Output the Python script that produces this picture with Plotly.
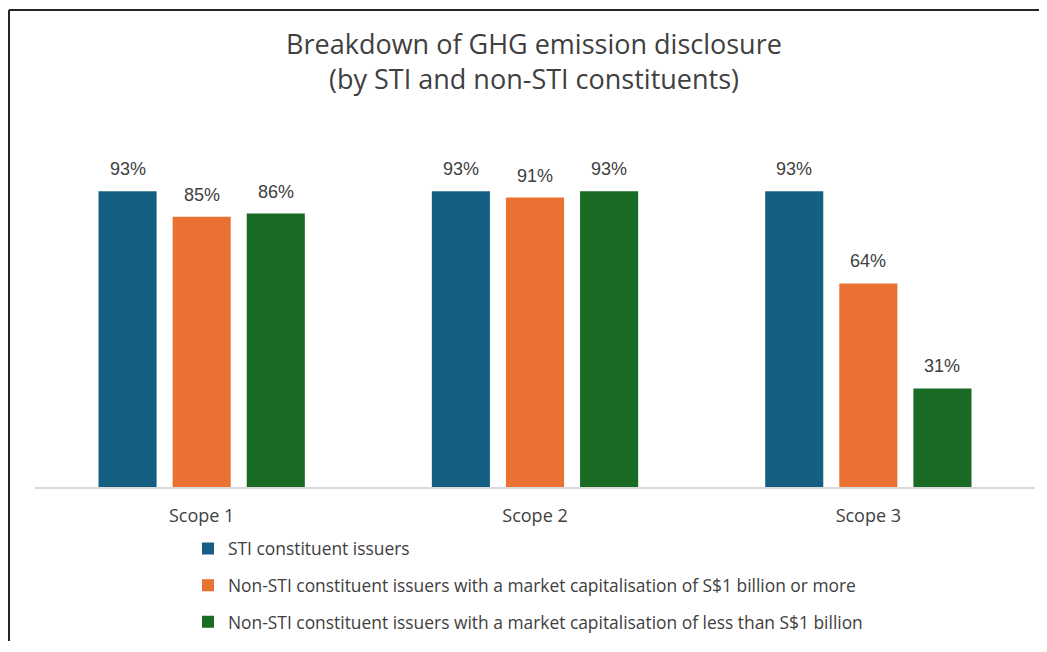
import plotly.graph_objects as go

categories = ["Scope 1", "Scope 2", "Scope 3"]
series_names = [
    "STI constituent issuers",
    "Non-STI constituent issuers with a market capitalisation of S$1 billion or more",
    "Non-STI constituent issuers with a market capitalisation of less than S$1 billion",
]
sti = [93, 93, 93]
non_sti_large = [85, 91, 64]
non_sti_small = [86, 93, 31]
values = [sti, non_sti_large, non_sti_small]
colors = ["#156082", "#E97132", "#196B24"]

# page body has an 8px margin, so the figure is sized/offset to compensate
W, H = 1031, 636
L, R, T, B = 27, 4, 161, 155

fig = go.Figure()
for name, vals, col in zip(series_names, values, colors):
    fig.add_trace(go.Bar(
        x=categories, y=vals, name=name, marker=dict(color=col, line=dict(width=0)),
        legendgroup=name,
    ))

# data labels
slot_px = 74
for i, vals in enumerate(values):
    for c, v in zip(categories, vals):
        fig.add_annotation(
            x=c, y=v, text=f"{v}%", showarrow=False, xref="x", yref="y",
            xshift=(i - 1) * slot_px, yanchor="bottom", yshift=10,
            font=dict(family="Liberation Sans, Arial", size=18, color="#404040"),
        )

pw = W - L - R
ph = H - T - B
bx0 = (1 - L) / pw
bx1 = (W - L) / pw
by0 = -(H - T - ph) / ph
by1 = 1 + (T - 1) / ph
border = dict(color="#262626", width=2)
fig.add_shape(type="line", xref="paper", yref="paper", x0=bx0, x1=bx0, y0=by0, y1=by1,
              line=border, layer="above")
fig.add_shape(type="line", xref="paper", yref="paper", x0=bx0, x1=bx1, y0=by1, y1=by1,
              line=border, layer="above")

fig.update_layout(
    width=W, height=H,
    margin=dict(l=L, r=R, t=T, b=B),
    paper_bgcolor="white", plot_bgcolor="white",
    barmode="group", bargap=0.333, bargroupgap=0.216,
    title=dict(
        text="Breakdown of GHG emission disclosure<br>(by STI and non-STI constituents)",
        x=526 / W, xanchor="center", y=(H - 46) / H, yanchor="middle", yref="container",
        font=dict(family="Open Sans", size=27, color="#404040"),
    ),
    xaxis=dict(
        showline=True, linecolor="#D9D9D9", linewidth=1.5, ticks="",
        tickfont=dict(family="Open Sans", size=18, color="#404040"),
        ticklabelstandoff=12, showgrid=False,
    ),
    yaxis=dict(range=[0, 100], visible=False, showgrid=False, zeroline=False),
    showlegend=True,
    legend=dict(
        orientation="v", x=(180 - L) / pw, xanchor="left", y=-(525 - (H - B)) / ph, yanchor="top",
        font=dict(family="Open Sans", size=17.4, color="#404040"),
        tracegroupgap=11, bgcolor="rgba(0,0,0,0)",
    ),
)

fig.write_html("out.html")
